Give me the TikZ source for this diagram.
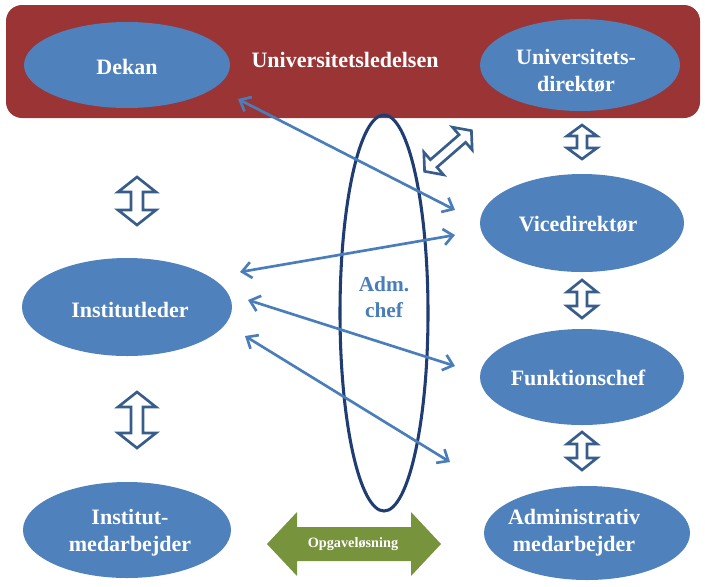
\documentclass[tikz,border=0pt]{standalone}
\usepackage{fontspec}
\setmainfont{Liberation Serif}
\usetikzlibrary{arrows.meta}
\definecolor{bannerred}{HTML}{9B3434}
\definecolor{elblue}{HTML}{4F81BD}
\definecolor{arrblue}{HTML}{385D8A}
\definecolor{thinblue}{HTML}{4A7EBB}
\definecolor{navy}{HTML}{1F3D73}
\definecolor{grn}{HTML}{77933C}
\newcommand{\darrow}[7][]{\draw[#1,shift={#2},rotate=#3] (-#4,0) -- (-#4+#5,#6) -- (-#4+#5,#7) -- (#4-#5,#7) -- (#4-#5,#6) -- (#4,0) -- (#4-#5,-#6) -- (#4-#5,-#7) -- (-#4+#5,-#7) -- (-#4+#5,-#6) -- cycle;}
\tikzset{
  ell/.style={fill=elblue, draw=none, font=\fontsize{16.5}{20}\selectfont\bfseries, text=white, align=center},
  blk/.style={draw=arrblue, fill=white, line width=2pt, line join=miter},
  thin/.style={draw=thinblue, line width=2pt, {Straight Barb[length=7pt,width=12pt]}-{Straight Barb[length=7pt,width=12pt]}}
}
\begin{document}
\begin{tikzpicture}[x=0.75pt,y=-0.75pt]
\useasboundingbox (0,0) rectangle (705,586);
% banner
\fill[bannerred, rounded corners=12pt] (6,5) rectangle (700,118);
\node[text=white, font=\fontsize{16.5}{20}\selectfont\bfseries] (banner) at (345,60) {Universitetsledelsen};
% ellipses
\fill[elblue] (127,65) ellipse [x radius=103, y radius=43];
\node[ell] (dekan) at (127,67) {Dekan};
\fill[elblue] (580,65) ellipse [x radius=100, y radius=46];
\node[ell] (udir) at (576,71) {Universitets-\\direktør};
\fill[elblue] (582,223) ellipse [x radius=102, y radius=49];
\node[ell] (vice) at (578,224) {Vicedirektør};
\fill[elblue] (127,307) ellipse [x radius=105, y radius=49];
\node[ell] (inst) at (130,310) {Institutleder};
\fill[elblue] (582,377) ellipse [x radius=102, y radius=48];
\node[ell] (funk) at (578,378) {Funktionschef};
\fill[elblue] (127,530) ellipse [x radius=104, y radius=48];
\node[ell] (imed) at (130,533) {Institut-\\medarbejder};
\fill[elblue] (587,533) ellipse [x radius=103, y radius=47];
\node[ell] (amed) at (574,533) {Administrativ\\medarbejder};
% block double arrows
\darrow[blk]{(137,201)}{90}{24}{15}{19}{6}
\darrow[blk]{(137,420)}{90}{28}{15}{19}{6}
\darrow[blk]{(582,142)}{90}{17}{11}{15}{5}
\darrow[blk]{(582,299)}{90}{19}{12}{15}{5}
\darrow[blk]{(582,451)}{90}{19}{12}{15}{5}
\darrow[blk]{(448,151)}{41}{31}{12}{15}{5}
% Adm. chef ellipse
\draw[navy, line width=2.3pt] (384,313) ellipse [x radius=44, y radius=198];
\node[text=thinblue, font=\fontsize{16}{19.5}\selectfont\bfseries, align=center] (adm) at (384,297) {Adm.\\chef};
% thin arrows
\coordinate (t1a) at (238,99);
\coordinate (t1b) at (455,210);
\coordinate (t2a) at (455,235);
\coordinate (t2b) at (240,272);
\coordinate (t3a) at (248,300);
\coordinate (t3b) at (455,366);
\coordinate (t4a) at (245,336);
\coordinate (t4b) at (450,462);
\draw[thin] (t1a) -- (t1b);
\draw[thin] (t2a) -- (t2b);
\draw[thin] (t3a) -- (t3b);
\draw[thin] (t4a) -- (t4b);
% green arrow
\darrow[fill=grn, draw=none]{(354,544)}{0}{87}{30}{32}{17}
\node[text=white, font=\fontsize{10.7}{13}\selectfont\bfseries] (opg) at (353,544) {Opgaveløsning};
\end{tikzpicture}
\end{document}
